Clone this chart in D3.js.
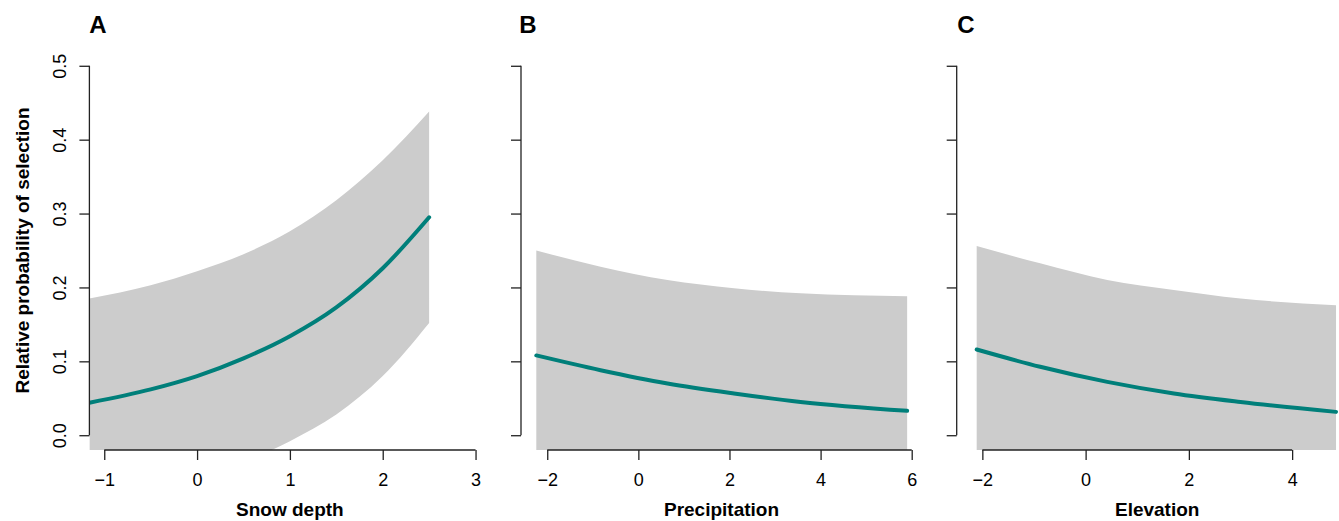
<!DOCTYPE html>
<html>
<head>
<meta charset="utf-8">
<script src="https://cdn.jsdelivr.net/npm/d3@7"></script>
<style>
  body { margin: 0; background: #fff; }
  svg { display: block; font-family: "Liberation Sans", Arial, sans-serif; }
</style>
</head>
<body>
<div id="chart"></div>
<script>
// values
var panelLetters = ["A", "B", "C"];
var axisTitles = ["Snow depth", "Precipitation", "Elevation"];
var yTicks = [0, 0.1, 0.2, 0.3, 0.4, 0.5];
var xTicksA = [-1, 0, 1, 2, 3];
var xTicksB = [-2, 0, 2, 4, 6];
var xTicksC = [-2, 0, 2, 4];

// snow depth
var snowX     = [-1.16, -0.5, 0, 0.5, 1, 1.5, 2, 2.5];
var snowMean  = [0.044, 0.062, 0.080, 0.104, 0.134, 0.173, 0.226, 0.295];
var snowUpper = [0.185, 0.203, 0.222, 0.245, 0.276, 0.318, 0.372, 0.438];
var snowLower = [-0.097, -0.079, -0.062, -0.037, -0.008, 0.028, 0.080, 0.152];

// precipitation
var precX     = [-2.24, -0.83, 0.64, 2.1, 3.56, 5.9];
var precMean  = [0.108, 0.088, 0.070, 0.0565, 0.045, 0.033];
var precUpper = [0.25, 0.228, 0.21, 0.199, 0.192, 0.188];
var precLower = [-0.034, -0.052, -0.07, -0.086, -0.102, -0.122];

// elevation
var elevX     = [-2.11, -0.88, 0.42, 1.71, 3.0, 4.85];
var elevMean  = [0.116, 0.0926, 0.0722, 0.0565, 0.045, 0.0316];
var elevUpper = [0.256, 0.2326, 0.21, 0.1965, 0.185, 0.176];
var elevLower = [-0.024, -0.047, -0.066, -0.083, -0.095, -0.113];

var width = 1339, height = 521;
var panelW = 401, plotTop = 51, plotBottom = 450;
var lefts = [89.4, 521, 956.7];

var panels = [
  {x: snowX, mean: snowMean, upper: snowUpper, lower: snowLower, ticks: xTicksA, domain: [-1.16, 3.16]},
  {x: precX, mean: precMean, upper: precUpper, lower: precLower, ticks: xTicksB, domain: [-2.576, 6.226]},
  {x: elevX, mean: elevMean, upper: elevUpper, lower: elevLower, ticks: xTicksC, domain: [-2.497, 5.27]}
];

var svg = d3.select("#chart").append("svg")
    .attr("width", width)
    .attr("height", height);

var y = d3.scaleLinear()
    .domain([-0.02, 0.52])
    .range([plotBottom, plotTop]);

panels.forEach(function(p, i) {
  var left = lefts[i];
  var x = d3.scaleLinear()
      .domain(p.domain)
      .range([left, left + panelW]);

  var rows = p.x.map(function(v, j) {
    return {x: v, mean: p.mean[j], upper: p.upper[j], lower: p.lower[j]};
  });

  svg.append("clipPath")
      .attr("id", "clip" + i)
    .append("rect")
      .attr("x", left)
      .attr("y", plotTop)
      .attr("width", panelW)
      .attr("height", plotBottom - plotTop);

  var g = svg.append("g").attr("clip-path", "url(#clip" + i + ")");

  var band = d3.area()
      .curve(d3.curveMonotoneX)
      .x(function(d) { return x(d.x); })
      .y0(function(d) { return y(d.lower); })
      .y1(function(d) { return y(d.upper); });

  var line = d3.line()
      .curve(d3.curveMonotoneX)
      .x(function(d) { return x(d.x); })
      .y(function(d) { return y(d.mean); });

  g.append("path")
      .attr("d", band(rows))
      .attr("fill", "#cccccc");

  g.append("path")
      .attr("d", line(rows))
      .attr("fill", "none")
      .attr("stroke", "#007f7a")
      .attr("stroke-width", 4)
      .attr("stroke-linecap", "round");

  // y axis
  var yAxis = d3.axisLeft(y)
      .tickValues(yTicks)
      .tickSize(10)
      .tickFormat(i === 0 ? d3.format(".1f") : "");

  var ya = svg.append("g")
      .attr("transform", "translate(" + left + ",0)")
      .call(yAxis);
  ya.select(".domain").remove();
  ya.append("line")
      .attr("x1", 0).attr("x2", 0)
      .attr("y1", y(0)).attr("y2", y(0.5))
      .attr("stroke", "#222")
      .attr("stroke-width", 1.3);
  ya.selectAll(".tick line").attr("stroke", "#222").attr("stroke-width", 1.3);
  ya.selectAll(".tick text")
      .attr("x", null).attr("dy", null)
      .attr("transform", "translate(-29,0) rotate(-90)")
      .attr("text-anchor", "middle")
      .attr("dominant-baseline", "central")
      .attr("fill", "#000")
      .style("font-size", "18px");

  // x axis
  var xAxis = d3.axisBottom(x)
      .tickValues(p.ticks)
      .tickSize(10)
      .tickFormat(function(d) { return d < 0 ? "\u2212" + Math.abs(d) : d; });

  var xa = svg.append("g")
      .attr("transform", "translate(0," + plotBottom + ")")
      .call(xAxis);
  xa.select(".domain").remove();
  xa.append("line")
      .attr("x1", x(p.ticks[0])).attr("x2", x(p.ticks[p.ticks.length - 1]))
      .attr("y1", 0).attr("y2", 0)
      .attr("stroke", "#222")
      .attr("stroke-width", 1.3);
  xa.selectAll(".tick line").attr("stroke", "#222").attr("stroke-width", 1.3);
  xa.selectAll(".tick text")
      .attr("y", 30).attr("dy", null)
      .attr("dominant-baseline", "central")
      .attr("fill", "#000")
      .style("font-size", "18px");

  svg.append("text")
      .attr("x", left + panelW / 2)
      .attr("y", 509)
      .attr("text-anchor", "middle")
      .attr("dominant-baseline", "central")
      .style("font-size", "19px")
      .style("font-weight", "bold")
      .text(axisTitles[i]);

  svg.append("text")
      .attr("x", [98, 528, 966][i])
      .attr("y", 24)
      .attr("text-anchor", "middle")
      .attr("dominant-baseline", "central")
      .style("font-size", "24px")
      .style("font-weight", "bold")
      .text(panelLetters[i]);
});

svg.append("text")
    .attr("transform", "translate(22," + y(0.25) + ") rotate(-90)")
    .attr("text-anchor", "middle")
    .attr("dominant-baseline", "central")
    .style("font-size", "19px")
    .style("font-weight", "bold")
    .text("Relative probability of selection");
</script>
</body>
</html>
